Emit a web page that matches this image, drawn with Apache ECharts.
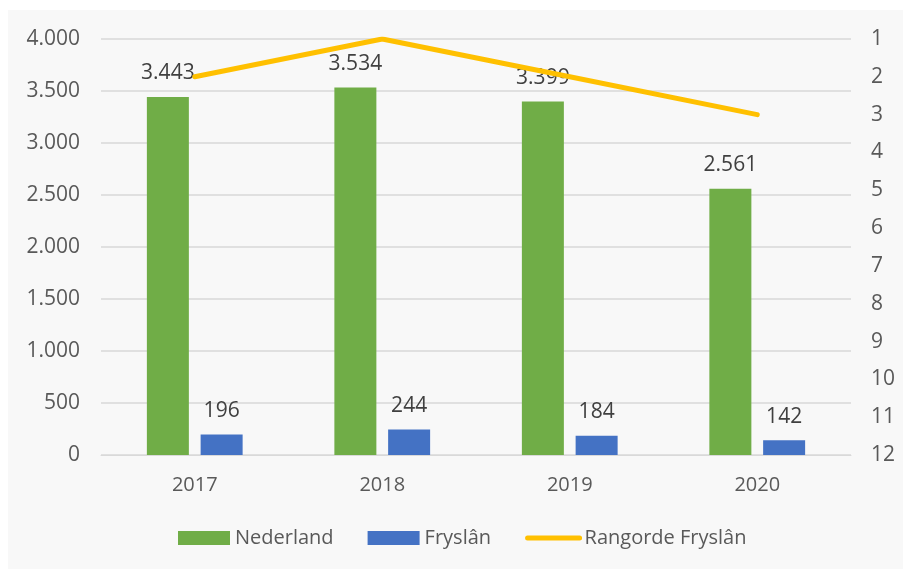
<!DOCTYPE html>
<html>
<head>
<meta charset="utf-8">
<script src="https://cdn.jsdelivr.net/npm/echarts@6/dist/echarts.min.js"></script>
<style>
  html, body { margin: 0; padding: 0; background: #ffffff; }
  #panel { position: absolute; left: 8px; top: 10px; width: 895px; height: 559px; background: #F8F8F8; }
  #chart { position: absolute; left: 0; top: 0; width: 903px; height: 569px; }
</style>
</head>
<body>
<div id="panel"></div>
<div id="chart"></div>
<script>
const years = ['2017', '2018', '2019', '2020'];
const nederland = [3443, 3534, 3399, 2561];
const fryslan = [196, 244, 184, 142];
const rangorde = [2, 1, 2, 3];

const FONT = '"Open Sans", "Noto Sans", sans-serif';
const COLORS = {
  nederland: '#70AD47',
  fryslan: '#4472C4',
  rang: '#FFC000',
  text: '#595959',
  label: '#404040',
  grid: '#D9D9D9',
};

const fmt = (v) => String(v).replace(/\B(?=(\d{3})+(?!\d))/g, '.');

const chart = echarts.init(document.getElementById('chart'));

const barLabel = {
  show: true,
  position: 'top',
  distance: 13,
  color: COLORS.label,
  fontFamily: FONT,
  fontSize: 21,
  formatter: (p) => fmt(p.value),
};

chart.setOption({
  backgroundColor: 'transparent',
  animation: false,
  textStyle: { fontFamily: FONT },
  grid: { left: 101, right: 52, top: 39, bottom: 114 },
  legend: {
    bottom: 16,
    left: 173,
    itemWidth: 52,
    itemHeight: 14,
    itemGap: 34,
    textStyle: { color: COLORS.text, fontSize: 20, fontFamily: FONT },
    data: [
      { name: 'Nederland', icon: 'rect' },
      { name: 'Fryslân', icon: 'rect' },
      {
        name: 'Rangorde Fryslân',
        itemStyle: { opacity: 0 },
        lineStyle: { color: COLORS.rang, width: 5, cap: 'round' },
      },
    ],
  },
  xAxis: {
    type: 'category',
    data: years,
    axisLine: { lineStyle: { color: COLORS.grid } },
    axisTick: { show: false },
    axisLabel: { color: COLORS.text, fontSize: 20, margin: 20 },
  },
  yAxis: [
    {
      type: 'value',
      min: 0,
      max: 4000,
      interval: 500,
      axisLine: { show: false },
      axisTick: { show: false },
      axisLabel: { color: COLORS.text, fontSize: 21, margin: 21, formatter: fmt },
      splitLine: { lineStyle: { color: COLORS.grid, width: 1.5 } },
    },
    {
      type: 'value',
      inverse: true,
      min: 1,
      max: 12,
      interval: 1,
      axisLine: { show: false },
      axisTick: { show: false },
      axisLabel: { color: COLORS.text, fontSize: 21, margin: 20 },
      splitLine: { show: false },
    },
  ],
  series: [
    {
      name: 'Nederland',
      type: 'bar',
      data: nederland,
      barWidth: 42,
      barGap: '28%',
      itemStyle: { color: COLORS.nederland },
      label: barLabel,
    },
    {
      name: 'Fryslân',
      type: 'bar',
      data: fryslan,
      barWidth: 42,
      itemStyle: { color: COLORS.fryslan },
      label: barLabel,
    },
    {
      name: 'Rangorde Fryslân',
      type: 'line',
      yAxisIndex: 1,
      data: rangorde,
      symbol: 'none',
      lineStyle: { color: COLORS.rang, width: 5, cap: 'round' },
      itemStyle: { color: COLORS.rang },
    },
  ],
});
</script>
</body>
</html>
